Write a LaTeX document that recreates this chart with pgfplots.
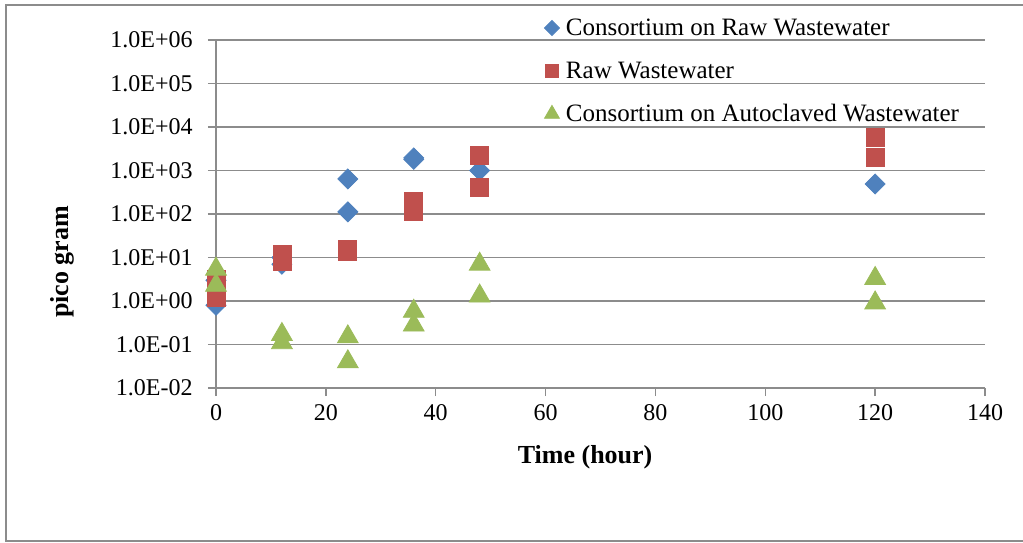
\documentclass[border=0pt]{standalone}
\usepackage{pgfplots}
\pgfplotsset{compat=1.18}
\usepackage{fontspec}
\setmainfont{Liberation Serif}
\definecolor{cblue}{HTML}{4F81BD}
\definecolor{cred}{HTML}{C0504D}
\definecolor{cgreen}{HTML}{9BBB59}
\definecolor{gridc}{HTML}{8C8C8C}
\begin{document}
\begin{tikzpicture}
\useasboundingbox (0pt,0pt) rectangle (511.5pt,271pt);
\draw[gridc, line width=0.9pt] (515pt,0.5pt) -- (3pt,0.5pt) -- (3pt,268.5pt) -- (515pt,268.5pt);
\begin{axis}[
  at={(108pt,77pt)}, anchor=south west,
  scale only axis, width=384.5pt, height=174pt,
  ymode=log, ymin=1e-2, ymax=1e6,
  xmin=0, xmax=140,
  xtick={0,20,...,140},
  ytick={1e-2,1e-1,1,10,100,1000,1e4,1e5,1e6},
  yticklabels={1.0E-02,1.0E-01,1.0E+00,1.0E+01,1.0E+02,1.0E+03,1.0E+04,1.0E+05,1.0E+06},
  yminorticks=false,
  axis lines*=left,
  axis line style={gridc, line width=0.7pt},
  ymajorgrids, grid style={gridc, line width=0.7pt},
  tick align=outside, major tick length=4pt,
  tick style={gridc, line width=0.7pt},
  /pgf/number format/assume math mode=true,
  ticklabel style={font=\fontsize{12}{14}\selectfont},
  yticklabel style={anchor=east, inner sep=0pt, xshift=-7.5pt},
  xticklabel style={anchor=north, inner sep=0pt, yshift=-4pt},
  xlabel={Time (hour)}, ylabel={pico gram},
  xlabel style={at={(axis description cs:0.48,-0.198)}, anchor=center, font=\fontsize{13}{15}\selectfont\bfseries},
  ylabel style={at={(axis description cs:-0.2003,0.362)}, anchor=center, font=\fontsize{13}{15}\selectfont\bfseries},
  clip=false,
  legend style={draw=none, fill=none, at={(axis description cs:0.4265,1.0661)}, anchor=north west,
    inner sep=0pt, outer sep=0pt, row sep=9.5pt, column sep=3pt,
    font=\fontsize{12.5}{14}\selectfont,
    nodes={inner sep=0pt, text height=9pt, text depth=3pt},
    cells={anchor=base west}},
  legend image code/.code={\path[draw=none, fill=none] (-4pt,-3pt) rectangle (4pt,9pt); \draw[#1] plot coordinates {(0pt,3.5pt)};},
]
\addplot[only marks, mark=square*, mark size=3.54pt, mark options={rotate=45, fill=cblue, draw=cblue}, legend image post style={mark size=2.65pt}]
coordinates {(0,0.8) (0,3) (12,7) (12,10) (24,640) (24,112) (36,1800) (36,1950) (48,1000) (120,490)};
\addlegendentry{Consortium on Raw Wastewater}
\addplot[only marks, mark=square*, mark size=4.5pt, mark options={fill=cred, draw=cred}, legend image post style={mark size=3.4pt}]
coordinates {(0,3.2) (0,2) (0,1.2) (12,12) (12,8) (24,14) (24,15) (36,190) (36,112) (48,2270) (48,400) (120,5900) (120,1950)};
\addlegendentry{Raw Wastewater}
\addplot[only marks, mark=triangle*, mark size=6pt, mark options={fill=cgreen, draw=cgreen}, legend image post style={mark size=4.3pt}]
coordinates {(0,5.4) (0,2.3) (12,0.17) (12,0.11) (24,0.15) (24,0.04) (36,0.58) (36,0.28) (48,7) (48,1.3) (120,3.3) (120,0.9)};
\addlegendentry{Consortium on Autoclaved Wastewater}
\end{axis}
\end{tikzpicture}
\end{document}
